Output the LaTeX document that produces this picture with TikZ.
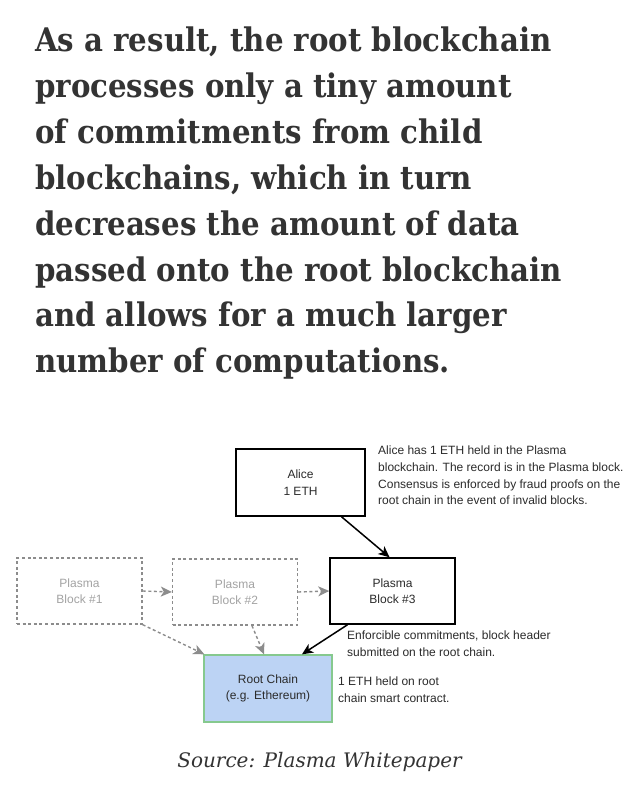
\documentclass[tikz,border=0pt]{standalone}
\usepackage{fontspec}
\setmainfont{Liberation Sans}
\newfontfamily\headfont{DejaVu Serif Condensed}
\newfontfamily\srcfont{DejaVu Serif}
\usetikzlibrary{arrows.meta,calc}
\definecolor{headgray}{HTML}{333333}
\definecolor{dashgray}{HTML}{8C8C8C}
\definecolor{ghosttext}{HTML}{A3A3A3}
\definecolor{rootfill}{HTML}{BCD3F4}
\definecolor{rootline}{HTML}{86C98E}
\definecolor{notetext}{HTML}{2B2B2B}
\tikzset{
  headline/.style={anchor=base west, inner sep=0pt, text=headgray,
    font=\headfont\bfseries\fontsize{32.5}{36}\selectfont},
  solidbox/.style={draw=black, line width=1.5pt, minimum width=#1, minimum height=66pt,
    align=center, inner sep=0pt, font=\fontsize{12}{16.5}\selectfont, text=notetext},
  ghostbox/.style={draw=dashgray, line width=1.4pt, dash pattern=on 3pt off 2.6pt,
    minimum width=125pt, minimum height=66pt, align=center, inner sep=0pt,
    font=\fontsize{12}{16.5}\selectfont, text=ghosttext},
  rootbox/.style={draw=rootline, fill=rootfill, line width=1.4pt, minimum width=128pt,
    minimum height=67pt, align=center, inner sep=0pt,
    font=\fontsize{12}{16.5}\selectfont, text=notetext},
  note/.style={anchor=north west, align=left, inner sep=0pt, text=notetext,
    font=\fontsize{12}{16.7}\selectfont},
  solidarrow/.style={draw=black, line width=1.5pt, -{Stealth[length=11pt, width=10pt, inset=3pt]}},
  ghostarrow/.style={draw=dashgray, line width=1.4pt, dash pattern=on 3pt off 2.6pt,
    -{Stealth[length=11pt, width=10pt, inset=3pt]}},
}
\begin{document}
\begin{tikzpicture}[x=1pt, y=-1pt]
\useasboundingbox (0,0) rectangle (640,794);
\fill[white] (0,0) rectangle (640,794);

% heading
\node[headline] (h1) at (35,52) {As a result, the root blockchain};
\node[headline] (h2) at (35,97.8) {processes only a tiny amount};
\node[headline] (h3) at (35,143.6) {of commitments from child};
\node[headline] (h4) at (35,189.4) {blockchains, which in turn};
\node[headline] (h5) at (35,235.2) {decreases the amount of data};
\node[headline] (h6) at (35,281) {passed onto the root blockchain};
\node[headline] (h7) at (35,326.8) {and allows for a much larger};
\node[headline] (h8) at (35,372.6) {number of computations.};

% boxes
\node[solidbox=129pt, minimum height=67pt] (alice) at (300.5,482.5) {Alice\\1 ETH};
\node[ghostbox] (b1) at (79.5,591) {Plasma\\Block \#1};
\node[ghostbox] (b2) at (235,592) {Plasma\\Block \#2};
\node[solidbox=125pt] (b3) at (392.5,591) {Plasma\\Block \#3};
\node[rootbox] (root) at (268,688.5) {Root Chain\\(e.g. Ethereum)};

% notes
\node[note] (n1) at (378,446) {Alice has 1 ETH held in the Plasma\\blockchain. The record is in the Plasma block.\\Consensus is enforced by fraud proofs on the\\root chain in the event of invalid blocks.};
\node[note] (n2) at (347,631) {Enforcible commitments, block header\\submitted on the root chain.};
\node[note] (n3) at (338,677) {1 ETH held on root\\chain smart contract.};

% connectors
\draw[solidarrow] ([xshift=41pt]alice.south) -- ([xshift=-3pt]b3.north);
\draw[solidarrow] ([xshift=-45pt]b3.south) -- ([xshift=34pt]root.north);
\draw[ghostarrow] (b1.east) -- (b2.west);
\draw[ghostarrow] (b2.east) -- (b3.west);
\draw[ghostarrow] (b1.south east) -- ([xshift=1pt]root.north west);
\draw[ghostarrow] ([xshift=17pt]b2.south) -- ([xshift=-4pt]root.north);

% source
\node[anchor=base, inner sep=0pt, text=headgray, font=\srcfont\itshape\fontsize{20}{24}\selectfont] (src) at (319.5,767) {Source: Plasma Whitepaper};
\end{tikzpicture}
\end{document}
